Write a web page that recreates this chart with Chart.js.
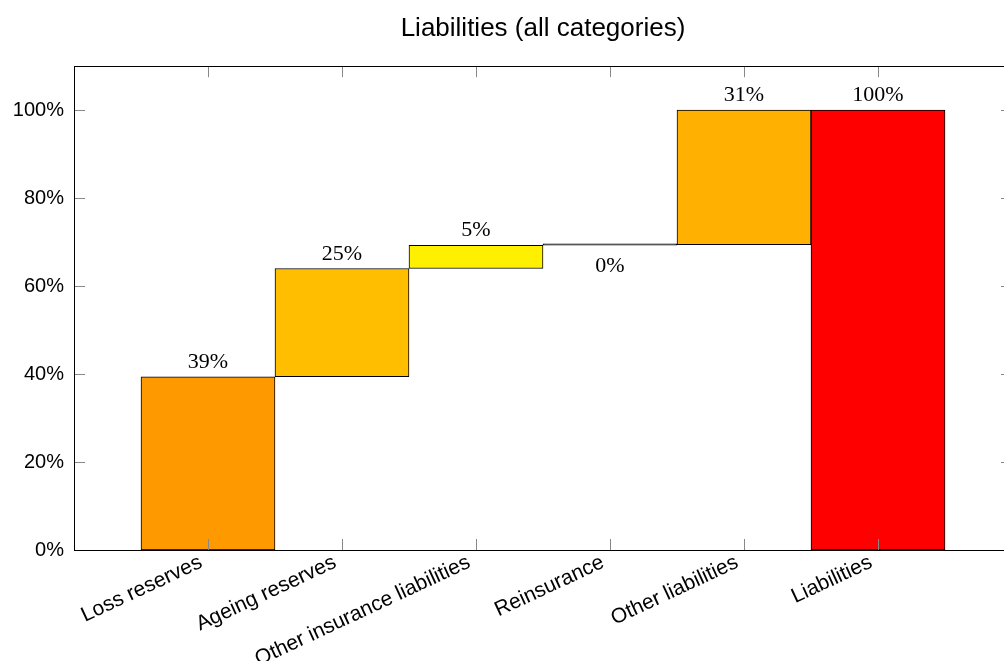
<!DOCTYPE html>
<html>
<head>
<meta charset="utf-8">
<script src="https://cdn.jsdelivr.net/npm/chart.js@4.4.1/dist/chart.umd.min.js"></script>
<style>
  html, body { margin: 0; padding: 0; background: #fff; overflow: hidden; }
</style>
</head>
<body>
<canvas id="chart" width="1016" height="661"></canvas>
<script>
// Waterfall data (percent of total liabilities)
const categories = ['Loss reserves', 'Ageing reserves', 'Other insurance liabilities', 'Reinsurance', 'Other liabilities', 'Liabilities'];
const barLow  = [0,    39.4, 64.0, 69.3, 69.4, 0];
const barHigh = [39.4, 64.0, 69.3, 69.6, 100,  100];
const valueLabels = ['39%', '25%', '5%', '0%', '31%', '100%'];
const barColors = ['#ff9900', '#ffbf00', '#fff000', '#333333', '#ffb000', '#ff0000'];
const yTicks = [0, 20, 40, 60, 80, 100];

const sans = "'Liberation Sans', Arial, Helvetica, sans-serif";
const serif = "'Liberation Serif', 'Times New Roman', serif";

// box around the plot + inward tick marks (pgfplots style)
const frame = {
  id: 'frame',
  afterDatasetsDraw(chart) {
    const { ctx, chartArea: a, scales: { x, y } } = chart;
    ctx.save();
    ctx.strokeStyle = '#888';
    ctx.lineWidth = 1;
    ctx.beginPath();
    yTicks.forEach(v => {
      const py = Math.round(y.getPixelForValue(v)) + 0.5;
      ctx.moveTo(a.left, py); ctx.lineTo(a.left + 11, py);
      ctx.moveTo(a.right, py); ctx.lineTo(a.right - 11, py);
    });
    categories.forEach((c, i) => {
      const px = Math.round(x.getPixelForValue(i)) + 0.5;
      ctx.moveTo(px, a.top); ctx.lineTo(px, a.top + 11);
      ctx.moveTo(px, a.bottom); ctx.lineTo(px, a.bottom - 11);
    });
    ctx.stroke();
    ctx.strokeStyle = '#000';
    ctx.strokeRect(Math.round(a.left) + 0.5, Math.round(a.top) + 0.5, Math.round(a.right - a.left), Math.round(a.bottom - a.top));
    ctx.restore();
  },
  afterDraw(chart) {
    // value labels above the bars (below when the bar is next to nothing)
    const { ctx } = chart;
    const meta = chart.getDatasetMeta(0);
    ctx.save();
    ctx.font = '22px ' + serif;
    ctx.fillStyle = '#000';
    ctx.textAlign = 'center';
    meta.data.forEach((bar, i) => {
      const tiny = barHigh[i] - barLow[i] < 1;
      if (tiny) {
        ctx.textBaseline = 'top';
        ctx.fillText(valueLabels[i], bar.x, bar.base + 10);
      } else {
        ctx.textBaseline = 'alphabetic';
        ctx.fillText(valueLabels[i], bar.x, bar.y - 9);
      }
    });
    ctx.restore();
  }
};

new Chart(document.getElementById('chart'), {
  type: 'bar',
  data: {
    datasets: [{
      data: categories.map((c, i) => ({ x: i, y: [barLow[i], barHigh[i]] })),
      backgroundColor: barColors,
      borderColor: '#000',
      borderWidth: 1,
      borderSkipped: false,
      barPercentage: 1,
      categoryPercentage: 1
    }]
  },
  options: {
    responsive: false,
    animation: false,
    layout: { padding: { left: 0, right: 4, top: 0, bottom: 0 } },
    plugins: {
      legend: { display: false },
      tooltip: { enabled: false },
      title: {
        display: true,
        fullSize: false,
        text: 'Liabilities (all categories)',
        color: '#000',
        font: { family: sans, size: 26, weight: 'normal' },
        padding: { top: 13, bottom: 22 }
      }
    },
    scales: {
      x: {
        type: 'linear',
        offset: false,
        min: -1,
        max: 6,
        grid: { display: false, drawTicks: false },
        border: { display: false },
        afterBuildTicks: s => { s.ticks = categories.map((c, i) => ({ value: i })); },
        afterFit: s => { s.height = 111; },
        ticks: {
          autoSkip: false,
          minRotation: 25,
          maxRotation: 25,
          padding: 0,
          labelOffset: -7,
          color: '#000',
          font: { family: sans, size: 21 },
          callback: v => categories[v]
        }
      },
      y: {
        min: 0,
        max: 110,
        grid: { display: false, drawTicks: false },
        border: { display: false },
        afterBuildTicks: s => { s.ticks = yTicks.map(v => ({ value: v })); },
        afterFit: s => { s.width = 74; },
        ticks: {
          padding: 10,
          color: '#000',
          font: { family: sans, size: 20 },
          callback: v => v + '%'
        }
      }
    }
  },
  plugins: [frame]
});
</script>
</body>
</html>
